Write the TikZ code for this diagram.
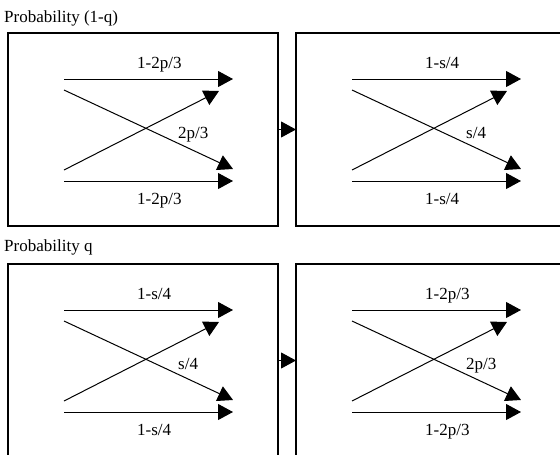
\documentclass[tikz,border=0pt]{standalone}
\usepackage{fontspec}
\setmainfont{Liberation Serif}
\usetikzlibrary{arrows.meta,positioning}

\begin{document}
\begin{tikzpicture}[x=1pt, y=-1pt, >={Triangle[length=15pt,width=16pt]},
  panel/.style={draw, line width=1.2pt, minimum width=270pt, minimum height=193pt, inner sep=0pt, outer sep=0pt},
  lbl/.style={anchor=base west, inner sep=0pt, font=\fontsize{17}{20}\selectfont},
  flow/.style={->, line width=1pt}]
  \clip (0,0) rectangle (560,455);
  % headings
  \node[lbl] (head1) at (4,23) {Probability (1-q)};
  \node[lbl] (head2) at (4,251) {Probability q};
  % panels
  \node[panel] (A) at (143,129.5) {};
  \node[panel] (B) at (431,129.5) {};
  \node[panel] (C) at (143,360.5) {};
  \node[panel] (D) at (431,360.5) {};
  \draw[flow] (A) -- (B);
  \draw[flow] (C) -- (D);
  % crossings inside each panel
  \foreach \p/\m/\n in {A/{1-2p/3}/{2p/3}, B/{1-s/4}/{s/4}, C/{1-s/4}/{s/4}, D/{1-2p/3}/{2p/3}} {
    \begin{scope}[shift={(\p.north west)}]
      \coordinate (\p-ta) at (56,46);   \coordinate (\p-tb) at (225,46);
      \coordinate (\p-da) at (56,57);   \coordinate (\p-db) at (225,136);
      \coordinate (\p-ua) at (56,137);  \coordinate (\p-ub) at (211,58);
      \coordinate (\p-ba) at (56,148);  \coordinate (\p-bb) at (225,148);
      \draw[flow] (\p-ta) -- (\p-tb);
      \draw[flow] (\p-da) -- (\p-db);
      \draw[flow] (\p-ua) -- (\p-ub);
      \draw[flow] (\p-ba) -- (\p-bb);
      \node[lbl] (\p-top) at (129,35) {\m};
      \node[lbl] (\p-mid) at (170,105) {\n};
      \node[lbl] (\p-bot) at (129,171) {\m};
    \end{scope}
  }
\end{tikzpicture}
\end{document}
